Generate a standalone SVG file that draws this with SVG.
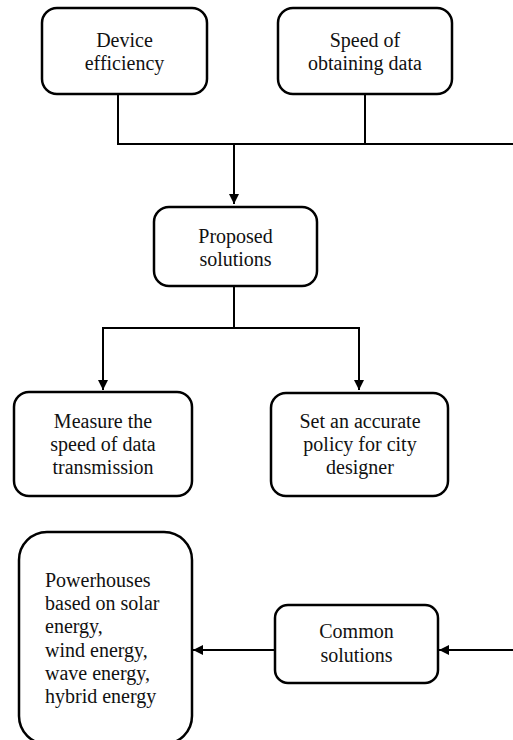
<svg xmlns="http://www.w3.org/2000/svg" width="513" height="740" viewBox="0 0 513 740">
<style>
.box{fill:#fff;stroke:#000;stroke-width:2.5}
.ln{fill:none;stroke:#000;stroke-width:2}
text{font-family:"Liberation Serif","DejaVu Serif","Times New Roman",serif;font-size:20px;fill:#111}
.c{text-anchor:middle}
</style>
<defs>
<marker id="ah" viewBox="0 0 10 10" refX="10" refY="5" markerWidth="10" markerHeight="10" markerUnits="userSpaceOnUse" orient="auto">
<path d="M0,0 L10,5 L0,10 z" fill="#000"/>
</marker>
</defs>
<rect width="513" height="740" fill="#fff"/>
<g id="connectors">
<polyline class="ln" points="118,94 118,144 513,144"/>
<line class="ln" x1="365" y1="94" x2="365" y2="144"/>
<line class="ln" x1="234" y1="144" x2="234" y2="204" marker-end="url(#ah)"/>
<line class="ln" x1="234" y1="286" x2="234" y2="328"/>
<polyline class="ln" points="234,328 103,328 103,390" marker-end="url(#ah)"/>
<polyline class="ln" points="234,328 359,328 359,390" marker-end="url(#ah)"/>
<line class="ln" x1="275" y1="650" x2="193" y2="650" marker-end="url(#ah)"/>
<line class="ln" x1="513" y1="650" x2="439" y2="650" marker-end="url(#ah)"/>
</g>
<g id="device">
<rect class="box" x="42" y="8" width="165" height="86" rx="15"/>
<text class="c" x="124.5" y="47" font-family="Liberation Serif, serif">Device</text>
<text class="c" x="124.5" y="70" font-family="Liberation Serif, serif">efficiency</text>
</g>
<g id="speed">
<rect class="box" x="278" y="8" width="174" height="86" rx="15"/>
<text class="c" x="365" y="47" font-family="Liberation Serif, serif">Speed of</text>
<text class="c" x="365" y="70" font-family="Liberation Serif, serif">obtaining data</text>
</g>
<g id="proposed">
<rect class="box" x="154" y="207" width="163" height="79" rx="15"/>
<text class="c" x="235.5" y="243" font-family="Liberation Serif, serif">Proposed</text>
<text class="c" x="235.5" y="266" font-family="Liberation Serif, serif">solutions</text>
</g>
<g id="measure">
<rect class="box" x="14" y="392" width="178" height="104" rx="15"/>
<text class="c" x="103" y="428" font-family="Liberation Serif, serif">Measure the</text>
<text class="c" x="103" y="451" font-family="Liberation Serif, serif">speed of data</text>
<text class="c" x="103" y="474" font-family="Liberation Serif, serif">transmission</text>
</g>
<g id="policy">
<rect class="box" x="271" y="393" width="177" height="103" rx="15"/>
<text class="c" x="360" y="428" font-family="Liberation Serif, serif">Set an accurate</text>
<text class="c" x="360" y="451" font-family="Liberation Serif, serif">policy for city</text>
<text class="c" x="360" y="474" font-family="Liberation Serif, serif">designer</text>
</g>
<g id="powerhouses">
<rect class="box" x="19" y="532" width="173" height="212" rx="28"/>
<text x="45" y="587" font-family="Liberation Serif, serif">Powerhouses</text>
<text x="45" y="610" font-family="Liberation Serif, serif">based on solar</text>
<text x="45" y="633" font-family="Liberation Serif, serif">energy,</text>
<text x="45" y="657" font-family="Liberation Serif, serif">wind energy,</text>
<text x="45" y="680" font-family="Liberation Serif, serif">wave energy,</text>
<text x="45" y="703" font-family="Liberation Serif, serif">hybrid energy</text>
</g>
<g id="common">
<rect class="box" x="275" y="605" width="163" height="78" rx="13"/>
<text class="c" x="356.5" y="638" font-family="Liberation Serif, serif">Common</text>
<text class="c" x="356.5" y="662" font-family="Liberation Serif, serif">solutions</text>
</g>
</svg>
